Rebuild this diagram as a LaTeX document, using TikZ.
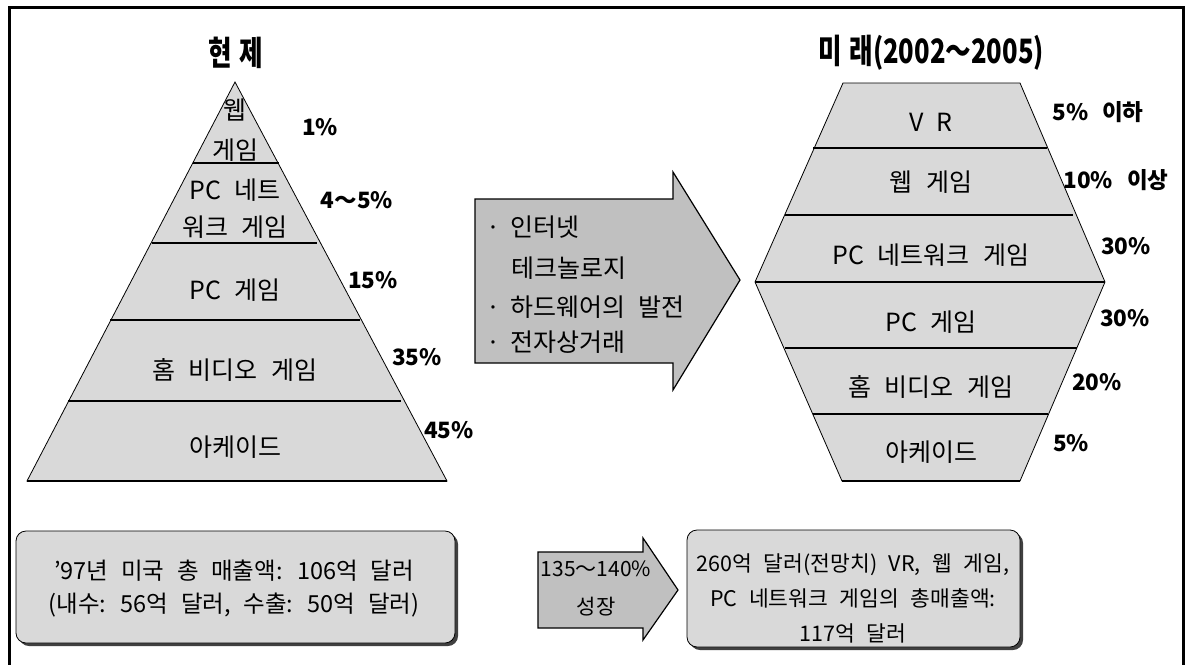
\documentclass[tikz,border=0pt]{standalone}
\usepackage{fontspec}
\setmainfont{Noto Sans CJK KR}[WordSpace=2.4]
\begin{document}
\begin{tikzpicture}[x=1pt,y=-1pt]
\definecolor{lgray}{HTML}{D9D9D9}
\definecolor{mgray}{HTML}{C0C0C0}
\tikzset{
 lbl/.style={font=\fontsize{25}{28}\selectfont, inner sep=0pt},
 pct/.style={font=\bfseries\fontsize{22.5}{26}\selectfont, inner sep=0pt},
 ttl/.style={font=\bfseries\fontsize{32}{36}\selectfont, inner sep=0pt},
 divider/.style={line width=1.8pt},
 shapeedge/.style={fill=lgray, draw=black, line width=0.8pt},
 blockarrow/.style={fill=mgray, draw=black, line width=1.2pt},
 boxtext/.style={font=\fontsize{23.5}{33}\selectfont, align=center, inner sep=0pt},
}
\useasboundingbox (0,0) rectangle (1188,664);
\fill[white] (0,0) rectangle (1188,664);
% frame
\draw[line width=3pt] (9,670) -- (9,7) -- (1183,7) -- (1183,670);

% ---------- left pyramid ----------
\node[ttl] (t1) at (236,53) {\scalebox{0.8}[1.05]{현\hspace{10pt}제}};
\path[shapeedge] (235,82) -- (447,481) -- (27,481) -- cycle;
\draw[divider] (193,163) -- (279,163);
\draw[divider] (152,243) -- (317,243);
\draw[divider] (110,320) -- (360,320);
\draw[divider] (68,401) -- (401,401);
\draw[divider] (27,481) -- (447,481);
\node[lbl] (p1a) at (235,110) {웹};
\node[lbl] (p1b) at (235,150) {게임};
\node[lbl] (p2a) at (235,190) {PC 네트};
\node[lbl] (p2b) at (235,227) {워크 게임};
\node[lbl] (p3) at (235,290) {PC 게임};
\node[lbl] (p4) at (235,370) {홈 비디오 게임};
\node[lbl] (p5) at (235,447) {아케이드};
\node[pct] (q1) at (320,127) {1\%};
\node[pct] (q2) at (357,200) {4～5\%};
\node[pct] (q3) at (373,280) {15\%};
\node[pct] (q4) at (417,357) {35\%};
\node[pct] (q5) at (449,430) {45\%};

% ---------- middle arrow ----------
\path[blockarrow] (475,199) -- (673,199) -- (673,172) -- (740,280) -- (673,390) -- (673,363) -- (475,363) -- cycle;
\node[lbl, anchor=west] (m1) at (486,227) {·\hspace{10pt}인터넷};
\node[lbl, anchor=west] (m2) at (511,268) {테크놀로지};
\node[lbl, anchor=west] (m3) at (486,307) {·\hspace{10pt}하드웨어의 발전};
\node[lbl, anchor=west] (m4) at (486,342) {·\hspace{10pt}전자상거래};

% ---------- right hexagon ----------
\node[ttl] (t2) at (931,53) {\scalebox{0.8}[1.05]{미\hspace{10pt}래(2002～2005)}};
\path[shapeedge] (843,83) -- (1020,83) -- (1105,282) -- (1020,481) -- (842,481) -- (755,282) -- cycle;
\draw[divider] (813,148) -- (1047,148);
\draw[divider] (785,215) -- (1073,215);
\draw[divider] (755,282) -- (1105,282);
\draw[divider] (785,348) -- (1077,348);
\draw[divider] (813,414) -- (1048,414);
\draw[divider] (842,481) -- (1020,481);
\node[lbl] (h1) at (931,122) {V R};
\node[lbl] (h2) at (931,182) {웹 게임};
\node[lbl] (h3) at (931,255) {PC 네트워크 게임};
\node[lbl] (h4) at (931,322) {PC 게임};
\node[lbl] (h5) at (931,387) {홈 비디오 게임};
\node[lbl] (h6) at (931,452) {아케이드};
\node[pct] (r1) at (1098,112) {5\%\hspace{14pt}이하};
\node[pct] (r2) at (1116,180) {10\%\hspace{14pt}이상};
\node[pct] (r3) at (1126,246) {30\%};
\node[pct] (r4) at (1125,318) {30\%};
\node[pct] (r5) at (1097,382) {20\%};
\node[pct] (r6) at (1071,443) {5\%};

% ---------- bottom row ----------
\fill[black!75, rounded corners=10pt] (19,534) rectangle (458,646);
\path[shapeedge, rounded corners=10pt] (16,531) rectangle (455,643);
\node[boxtext] (b1) at (234,589) {'97년 미국 총 매출액: 106억 달러\\(내수: 56억 달러, 수출: 50억 달러)};

\path[blockarrow] (538,552) -- (643,552) -- (643,538) -- (678,590) -- (643,640) -- (643,628) -- (538,628) -- cycle;
\node[boxtext, font=\fontsize{21}{38}\selectfont] (b2) at (596,588) {135～140\%\\성장};

\fill[black!75, rounded corners=10pt] (690,533) rectangle (1023,650);
\path[shapeedge, rounded corners=10pt] (687,530) rectangle (1020,647);
\node[boxtext, font=\fontsize{21.5}{35}\selectfont] (b3) at (853,598) {260억 달러(전망치) VR, 웹 게임,\\PC 네트워크 게임의 총매출액:\\117억 달러};
\end{tikzpicture}
\end{document}
